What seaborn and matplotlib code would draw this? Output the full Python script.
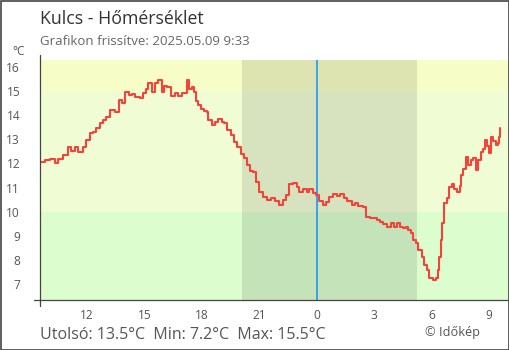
import matplotlib
matplotlib.use("Agg")
import matplotlib.pyplot as plt
import seaborn as sns
import pandas as pd
from matplotlib.patches import Rectangle

# ---- data (hours since midnight of the first day, temperature in °C) ----
hours = [9.53, 9.79, 10.05, 10.31, 10.48, 10.75, 11.01, 11.18, 11.39, 11.53, 11.79, 11.96,
         12.14, 12.31, 12.49, 12.66, 12.84, 13.01, 13.19, 13.36, 13.48, 13.66, 13.83, 14.00,
         14.18, 14.35, 14.52, 14.75, 14.93, 15.10, 15.20, 15.38, 15.55, 15.73, 15.90, 16.03,
         16.20, 16.38, 16.60, 16.77, 16.95, 17.07, 17.21, 17.35, 17.47, 17.59, 17.70, 17.82,
         17.94, 18.12, 18.26, 18.34, 18.52, 18.69, 18.86, 19.04, 19.16, 19.33, 19.51, 19.68,
         19.86, 20.03, 20.21, 20.38, 20.52, 20.69, 20.83, 21.01, 21.18, 21.39, 21.60, 21.83,
         22.05, 22.23, 22.40, 22.58, 22.78, 22.96, 23.10, 23.31, 23.49, 23.62, 23.80, 23.97,
         24.14, 24.32, 24.49, 24.67, 24.84, 25.05, 25.23, 25.43, 25.61, 25.84, 26.01, 26.18,
         26.41, 26.58, 26.79, 26.97, 27.14, 27.32, 27.49, 27.70, 27.88, 28.05, 28.22, 28.36,
         28.50, 28.68, 28.80, 28.92, 29.03, 29.20, 29.32, 29.50, 29.62, 29.76, 29.89, 30.07,
         30.24, 30.35, 30.42, 30.49, 30.57, 30.66, 30.80, 30.94, 31.06, 31.18, 31.36, 31.50,
         31.53, 31.67, 31.81, 31.93, 32.06, 32.19, 32.33, 32.45, 32.58, 32.68, 32.80, 32.92,
         33.03, 33.10, 33.24, 33.38, 33.47, 33.52, 33.57]
temps = [12.07, 12.14, 12.2, 12.0, 12.17, 12.35, 12.67, 12.53, 12.67, 12.48, 12.7, 12.97,
         13.25, 13.31, 13.45, 13.66, 13.8, 13.93, 14.21, 14.21, 14.14, 14.62, 14.49, 14.97,
         14.83, 14.87, 14.73, 14.69, 14.9, 15.1, 15.31, 14.97, 15.31, 15.45, 14.97, 15.2,
         15.17, 14.79, 14.9, 14.79, 14.9, 14.9, 15.45, 15.07, 15.17, 14.97, 14.59, 14.42,
         14.24, 14.18, 14.14, 13.8, 13.59, 13.73, 13.85, 13.73, 13.66, 13.38, 13.18, 12.9,
         12.67, 12.4, 12.21, 11.93, 11.7, 11.63, 11.24, 10.83, 10.62, 10.49, 10.58, 10.45,
         10.27, 10.49, 10.69, 11.15, 11.18, 11.04, 10.83, 10.93, 10.83, 10.93, 10.79, 10.69,
         10.46, 10.28, 10.42, 10.6, 10.74, 10.65, 10.72, 10.58, 10.46, 10.28, 10.35, 10.25,
         10.19, 9.8, 9.73, 9.76, 9.66, 9.59, 9.49, 9.38, 9.55, 9.38, 9.55, 9.38,
         9.32, 9.38, 9.25, 9.11, 8.83, 8.7, 8.42, 8.14, 7.8, 7.59, 7.25, 7.18,
         7.25, 7.59, 8.12, 8.83, 9.52, 10.35, 10.56, 11.04, 11.15, 10.93, 10.83, 11.07,
         11.52, 11.76, 12.28, 11.93, 12.14, 12.21, 11.73, 12.14, 12.48, 12.58, 12.97, 12.72,
         12.44, 13.08, 12.94, 12.76, 12.83, 13.1, 13.45]

tick_hours = [12, 15, 18, 21, 24, 27, 30, 33]
tick_labels = ["12", "15", "18", "21", "0", "3", "6", "9"]
y_ticks = [7, 8, 9, 10, 11, 12, 13, 14, 15, 16]
band_limits = [10, 15]
night_start, night_end = 20.11, 29.27
midnight = 24

title = "Kulcs - Hőmérséklet"
subtitle = "Grafikon frissítve: 2025.05.09 9:33"
footer = "Utolsó: 13.5°C  Min: 7.2°C  Max: 15.5°C"
credit = "© Időkép"

df = pd.DataFrame({"hour": hours, "temp": temps})

sns.set_theme(style="white")
plt.rcParams["font.family"] = ["Open Sans", "DejaVu Sans"]

fig = plt.figure(figsize=(5.1, 3.5), dpi=100)
ax = fig.add_axes([40 / 510, 50 / 350, 469 / 510, 240 / 350])

x0, x1 = 9.54, 34.06
y0, y1 = 6.35, 16.28
ax.set_xlim(x0, x1)
ax.set_ylim(y0, y1)

# background bands
ax.axhspan(y0, band_limits[0], color="#dcfdcd", lw=0, zorder=0)
ax.axhspan(band_limits[0], band_limits[1], color="#f0fdd4", lw=0, zorder=0)
ax.axhspan(band_limits[1], y1, color="#f7fdc6", lw=0, zorder=0)
# night shading
ax.axvspan(night_start, night_end, color="black", alpha=0.1, lw=0, zorder=1)
# midnight line
ax.axvline(midnight, color="#2196f3", lw=1.2, zorder=2)

sns.lineplot(data=df, x="hour", y="temp", ax=ax, color="#f5433a", lw=1.5,
             drawstyle="steps-post", estimator=None, zorder=3)

ax.set_xlabel("")
ax.set_ylabel("")
ax.set_xticks(tick_hours)
ax.set_xticklabels(tick_labels)
ax.set_yticks(y_ticks)
ax.set_yticklabels([str(v) for v in y_ticks])
for s in ax.spines.values():
    s.set_visible(False)
ax.tick_params(axis="both", direction="inout", length=8.6, width=0.8, color="#444444",
               labelcolor="#555555", labelsize=8.6)
ax.tick_params(axis="y", pad=10)
ax.tick_params(axis="x", pad=2.5)

# axis lines extending slightly beyond the plot area
ax.plot([0, 0], [-0.025, 1.021], transform=ax.transAxes, color="#444444", lw=0.9,
        clip_on=False, zorder=5)
ax.plot([-0.0128, 1], [0, 0], transform=ax.transAxes, color="#444444", lw=0.9,
        clip_on=False, zorder=5)

# texts
fig.text(40.5 / 510, 1 - 24.3 / 350, title, fontsize=12.8, color="#333333", va="baseline")
fig.text(40.5 / 510, 1 - 45 / 350, subtitle, fontsize=9.5, color="#666666", va="baseline")
fig.text(12 / 510, 1 - 55 / 350, "°C", fontsize=8.6, color="#555555", va="baseline")
fig.text(40.5 / 510, 1 - 339 / 350, footer, fontsize=11.55, color="#555555", va="baseline")
fig.text(425 / 510, 1 - 335.7 / 350, credit, fontsize=9.2, color="#555555", va="baseline")

# outer frame
fig.patches.append(Rectangle((0.5 / 510, 0.5 / 350), 509 / 510, 349 / 350,
                             transform=fig.transFigure, fill=False, ec="#444444", lw=1.2))

fig.savefig("out.png", dpi=100)
